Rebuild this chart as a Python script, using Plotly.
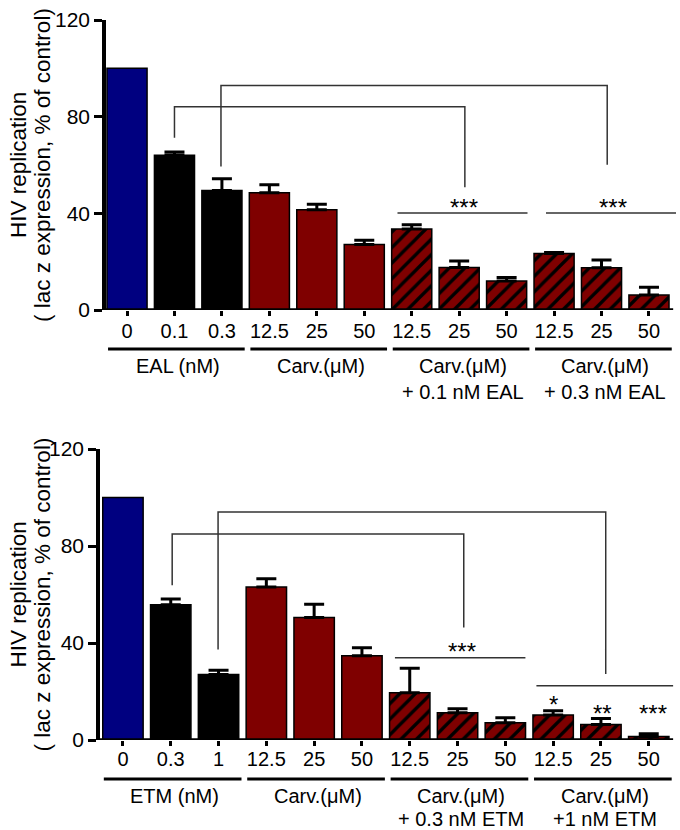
import plotly.graph_objects as go

# ---------------- data ----------------
tick_top = ["0", "0.1", "0.3", "12.5", "25", "50", "12.5", "25", "50", "12.5", "25", "50"]
vals_top = [100, 64.0, 49.5, 48.5, 41.5, 27.1, 33.5, 17.6, 12.0, 23.4, 17.5, 6.2]
err_top = [0, 1.4, 4.8, 3.3, 2.3, 1.8, 1.8, 2.7, 1.5, 0.4, 3.2, 3.2]

tick_bot = ["0", "0.3", "1", "12.5", "25", "50", "12.5", "25", "50", "12.5", "25", "50"]
vals_bot = [100, 55.8, 27.0, 63.1, 50.5, 34.7, 19.5, 11.2, 7.1, 10.3, 6.4, 1.4]
err_bot = [0, 2.3, 1.8, 3.4, 5.5, 3.3, 10.1, 1.7, 2.1, 1.8, 2.5, 1.2]

bar_kind = ["ctrl", "drug", "drug", "carv", "carv", "carv",
            "combo", "combo", "combo", "combo", "combo", "combo"]

groups_top = [(0, 2, ["EAL (nM)"]), (3, 5, ["Carv.(μM)"]),
              (6, 8, ["Carv.(μM)", "+ 0.1 nM EAL"]), (9, 11, ["Carv.(μM)", "+ 0.3 nM EAL"])]
groups_bot = [(0, 2, ["ETM (nM)"]), (3, 5, ["Carv.(μM)"]),
              (6, 8, ["Carv.(μM)", "+ 0.3 nM ETM"]), (9, 11, ["Carv.(μM)", "+1 nM ETM"])]

# brackets: (x_left, x_right, y_left_end, y_top, y_right_end)
brackets_top = [(1.0, 7.12, 71.3, 84.1, 50.8), (1.98, 10.12, 59.4, 92.9, 60.1)]
brackets_bot = [(1.03, 7.13, 63.8, 85.0, 46.4), (1.99, 10.1, 37.3, 94.0, 27.2)]
# significance lines: (x0, x1, y)
siglines_top = [(5.70, 8.44, 40.1), (8.83, 11.57, 40.1)]
siglines_bot = [(5.69, 8.42, 33.9), (8.65, 11.51, 22.4)]
# stars: (x, y, text) -- y is the centre of the asterisks
stars_top = [(7.1, 45.0, "***"), (10.24, 45.0, "***")]
stars_bot = [(7.1, 39.0, "***"), (9.0, 17.4, "*"), (10.03, 13.6, "**"), (11.08, 13.6, "***")]

# ---------------- style ----------------
FONT = "Liberation Sans, Arial, sans-serif"
W, H = 680, 830
colors = {"ctrl": "#000080", "drug": "#000000", "carv": "#7f0000", "combo": "#7f0000"}
STAR_SIZE = 24
STAR_SHIFT = 2.6  # units: asterisks sit high in their text box

panels = [
    dict(ticks=tick_top, vals=vals_top, err=err_top, groups=groups_top,
         brackets=brackets_top, siglines=siglines_top, stars=stars_top,
         xr=[-0.443, 11.62], left_px=106, ppu=47.45, y0_px=310, y120_px=20,
         line_px=349, lab_px=[366, 392], standoff=-2),
    dict(ticks=tick_bot, vals=vals_bot, err=err_bot, groups=groups_bot,
         brackets=brackets_bot, siglines=siglines_bot, stars=stars_bot,
         xr=[-0.48, 11.6], left_px=100, ppu=47.8, y0_px=740, y120_px=449,
         line_px=779, lab_px=[796, 819], standoff=-4),
]

fig = go.Figure()
shapes, annots = [], []

for k, p in enumerate(panels, start=1):
    xa = "x" if k == 1 else f"x{k}"
    ya = "y" if k == 1 else f"y{k}"
    n = len(p["vals"])
    xs = list(range(n))
    for kinds, hatched, with_err in [(("ctrl",), False, False),
                                     (("drug", "carv"), False, True),
                                     (("combo",), True, True)]:
        idx = [i for i in xs if bar_kind[i] in kinds]
        marker = dict(color=[colors[bar_kind[i]] for i in idx],
                      line=dict(color="black", width=1.5))
        if hatched:
            marker = dict(color=colors["combo"], line=dict(color="black", width=1.5),
                          pattern=dict(shape="/", fillmode="replace", bgcolor=colors["combo"],
                                       fgcolor="#000000", fgopacity=1, size=11, solidity=0.3))
        tr = dict(x=idx, y=[p["vals"][i] for i in idx], xaxis=xa, yaxis=ya, width=0.845,
                  marker=marker, showlegend=False, hoverinfo="skip")
        if with_err:
            tr["error_y"] = dict(type="data", symmetric=False,
                                 array=[p["err"][i] for i in idx],
                                 arrayminus=[0] * len(idx), color="black",
                                 thickness=3, width=10)
        fig.add_trace(go.Bar(**tr))

    # baseline (x-axis line)
    shapes.append(dict(type="line", xref=xa, yref=ya, x0=p["xr"][0], x1=11.51,
                       y0=0, y1=0, line=dict(color="black", width=3.5)))
    # brackets
    for (xl, xr_, yl, yt, yr) in p["brackets"]:
        shapes.append(dict(type="path", xref=xa, yref=ya,
                           path=f"M {xl},{yl} L {xl},{yt} L {xr_},{yt} L {xr_},{yr}",
                           line=dict(color="#333333", width=1.5)))
    for (x0, x1, y) in p["siglines"]:
        shapes.append(dict(type="line", xref=xa, yref=ya, x0=x0, x1=x1, y0=y, y1=y,
                           line=dict(color="#333333", width=1.5)))
    for (x, y, t) in p["stars"]:
        annots.append(dict(x=x, y=y - STAR_SHIFT, xref=xa, yref=ya, text=t, showarrow=False,
                           yanchor="middle",
                           font=dict(family=FONT, size=STAR_SIZE, color="black")))
    # group underlines and labels
    for (a, b, lines) in p["groups"]:
        shapes.append(dict(type="line", xref=xa, yref="paper", x0=a - 0.4, x1=b + 0.48,
                           y0=(H - p["line_px"]) / H, y1=(H - p["line_px"]) / H,
                           line=dict(color="black", width=3)))
        for li, txt in enumerate(lines):
            annots.append(dict(x=(a + b) / 2 + 0.08, y=(H - p["lab_px"][li]) / H,
                               xref=xa, yref="paper", text=txt, showarrow=False,
                               yanchor="middle", font=dict(family=FONT, size=20, color="black")))
    # y axis title (two lines)
    ymid = (H - (p["y0_px"] + p["y120_px"]) / 2) / H
    for xpx, txt in [(18, "HIV replication"), (42, "( lac z expression, % of control)")]:
        annots.append(dict(x=xpx / W, y=ymid, xref="paper", yref="paper", text=txt,
                           textangle=-90, showarrow=False, xanchor="center", yanchor="middle",
                           font=dict(family=FONT, size=22.5, color="black")))

    right_px = p["left_px"] + (p["xr"][1] - p["xr"][0]) * p["ppu"]
    xaxis = dict(domain=[p["left_px"] / W, right_px / W], range=p["xr"], anchor=ya,
                 tickvals=xs, ticktext=p["ticks"], ticks="outside", ticklen=5, tickwidth=3,
                 tickcolor="black", showline=False, showgrid=False, zeroline=False,
                 ticklabelstandoff=p["standoff"],
                 tickfont=dict(family=FONT, size=20, color="black"), fixedrange=True)
    yaxis = dict(domain=[(H - p["y0_px"]) / H, (H - p["y120_px"]) / H], range=[0, 120],
                 anchor=xa, tickvals=[0, 40, 80, 120], ticks="outside", ticklen=8, tickwidth=3,
                 tickcolor="black", showline=True, linewidth=3.5, linecolor="black",
                 showgrid=False, zeroline=False,
                 tickfont=dict(family=FONT, size=21, color="black"), fixedrange=True)
    fig.update_layout(**{("xaxis" if k == 1 else f"xaxis{k}"): xaxis,
                         ("yaxis" if k == 1 else f"yaxis{k}"): yaxis})

fig.update_layout(width=W, height=H, barmode="overlay",
                  margin=dict(l=0, r=0, t=0, b=0, autoexpand=False),
                  paper_bgcolor="white", plot_bgcolor="white",
                  shapes=shapes, annotations=annots,
                  font=dict(family=FONT, color="black"))

fig.write_html("out.html", config={"displayModeBar": False},
               post_script="document.body.style.margin='0';document.body.style.overflow='hidden';")
